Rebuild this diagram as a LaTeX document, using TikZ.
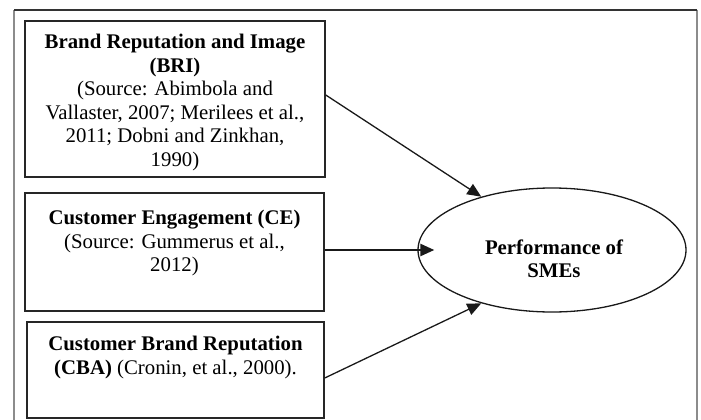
\documentclass[tikz,border=0pt]{standalone}
\usepackage{fontspec}
\setmainfont{Liberation Serif}
\usetikzlibrary{arrows.meta,shapes.geometric}
\begin{document}
\begin{tikzpicture}[x=1pt,y=-1pt,
  boxshape/.style={draw=black!85,line width=1.5pt,rectangle,inner sep=0pt},
  boxtext/.style={anchor=north,align=center,inner sep=0pt,font=\fontsize{20.8}{23.5}\selectfont},
  conn/.style={draw=black!90,line width=1.3pt,-{Triangle[length=14pt,width=12pt]}},
  frameside/.style={draw=black!45,line width=1.5pt},
  frametop/.style={draw=black!80,line width=1.2pt}]
\useasboundingbox (0,0) rectangle (701,420);
% outer frame
\coordinate (fbl) at (14,421);
\coordinate (ftl) at (14,10);
\coordinate (ftr) at (697,10);
\coordinate (fbr) at (697,421);
\draw[frameside] (fbl) -- (ftl);
\draw[frameside] (ftr) -- (fbr);
\draw[frametop] (ftl) -- (ftr);
% boxes
\node[boxshape,minimum width=300pt,minimum height=156pt] (b1) at (175,99) {};
\node[boxshape,minimum width=299pt,minimum height=118pt] (b2) at (174.5,252) {};
\node[boxshape,minimum width=297pt,minimum height=96pt] (b3) at (175.5,370) {};
\node[boxtext] (t1) at ([yshift=-14pt]b1.north) {\textbf{Brand Reputation and Image}\\\textbf{(BRI)}\\(Source: Abimbola and\\Vallaster, 2007; Merilees et al.,\\2011; Dobni and Zinkhan,\\1990)};
\node[boxtext] (t2) at ([yshift=-18pt]b2.north) {\textbf{Customer Engagement (CE)}\\(Source: Gummerus et al.,\\2012)};
\node[boxtext] (t3) at ([yshift=-15pt]b3.north) {\textbf{Customer Brand Reputation}\\\textbf{(CBA)} (Cronin, et al., 2000).};
% ellipse
\node[draw=black!90,line width=1.3pt,ellipse,minimum width=268pt,minimum height=124pt,inner sep=0pt] (perf) at (552,250) {};
\node[align=center,inner sep=0pt,font=\fontsize{20.8}{23.5}\selectfont\bfseries] (pt) at (554,259) {Performance of\\SMEs};
% connectors
\draw[conn] ([yshift=4pt]b1.east) -- (perf.143);
\draw[conn,line width=2.4pt] ([yshift=2pt]b2.east) -- ([xshift=17pt]perf.west);
\draw[conn] ([yshift=-8pt]b3.east) -- (perf.217);
\end{tikzpicture}
\end{document}
